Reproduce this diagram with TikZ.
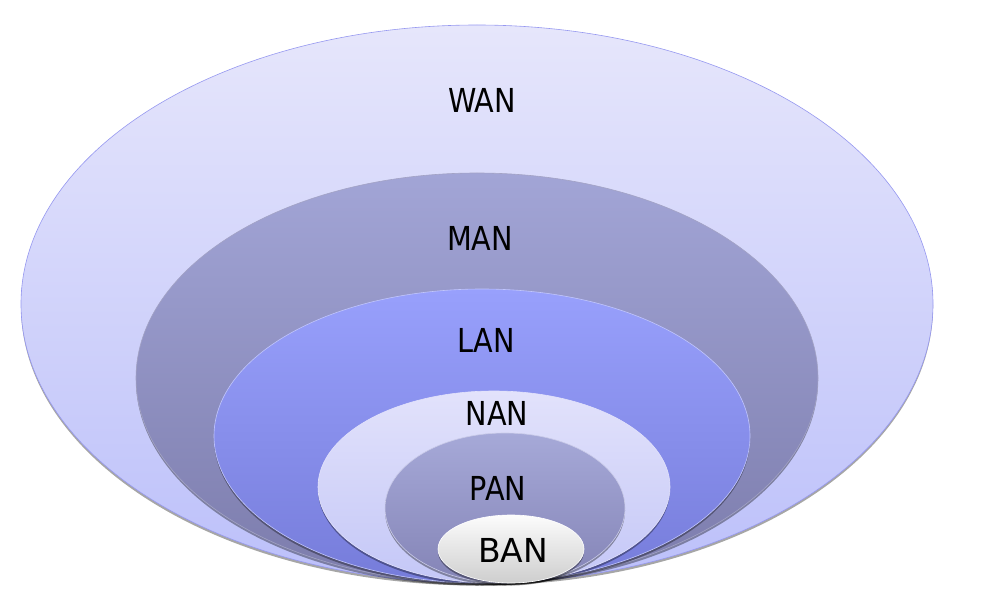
\documentclass[tikz,border=0pt]{standalone}
\usepackage{fontspec}
\setmainfont{DejaVu Sans}
\usetikzlibrary{shapes.geometric,shadows}
\definecolor{wanT}{RGB}{230,230,251}
\definecolor{wanB}{RGB}{188,192,250}
\definecolor{wanL}{RGB}{150,152,240}
\definecolor{manT}{RGB}{162,165,214}
\definecolor{manB}{RGB}{124,124,172}
\definecolor{lanT}{RGB}{152,160,252}
\definecolor{lanB}{RGB}{118,124,218}
\definecolor{nanT}{RGB}{226,226,251}
\definecolor{nanB}{RGB}{196,199,247}
\definecolor{panT}{RGB}{166,169,216}
\definecolor{panB}{RGB}{132,132,182}
\definecolor{banT}{RGB}{252,252,252}
\definecolor{banB}{RGB}{206,206,206}
\tikzset{
  ring/.style={ellipse, inner sep=0pt, line width=0.6pt,
    drop shadow={shadow xshift=0pt, shadow yshift=-2.5pt, opacity=0.35, fill=black}},
  lbl/.style={font=\fontsize{33}{36}\selectfont, text=black, inner sep=0pt}
}
\newcommand{\cond}[1]{\scalebox{0.87}[1]{#1}}
\begin{document}
\begin{tikzpicture}[x=1pt,y=-1pt]
\useasboundingbox (0,0) rectangle (1000,612);
\node[ring, draw=wanL, top color=wanT, bottom color=wanB, minimum width=912pt, minimum height=558pt] (wan) at (477,304) {};
\node[ring, draw=manB!70!white, top color=manT, bottom color=manB, minimum width=682pt, minimum height=410pt] (man) at (477,378) {};
\node[ring, draw=lanT!60!white, top color=lanT, bottom color=lanB, minimum width=536pt, minimum height=294pt] (lan) at (482,436) {};
\node[ring, draw=nanT, top color=nanT, bottom color=nanB, minimum width=352pt, minimum height=192pt] (nan) at (494,487) {};
\node[ring, draw=panT!60!white, top color=panT, bottom color=panB, minimum width=240pt, minimum height=150pt] (pan) at (505,508) {};
\node[ring, draw=white, top color=banT, bottom color=banB, minimum width=146pt, minimum height=68pt] (ban) at (511,549) {};
\node[lbl] (twan) at (482,100) {\cond{WAN}};
\node[lbl] (tman) at (480,238) {\cond{MAN}};
\node[lbl] (tlan) at (486,340) {\cond{LAN}};
\node[lbl] (tnan) at (497,413) {\cond{NAN}};
\node[lbl] (tpan) at (498,488) {\cond{PAN}};
\node[lbl] (tban) at (513,550) {BAN};
\end{tikzpicture}
\end{document}
